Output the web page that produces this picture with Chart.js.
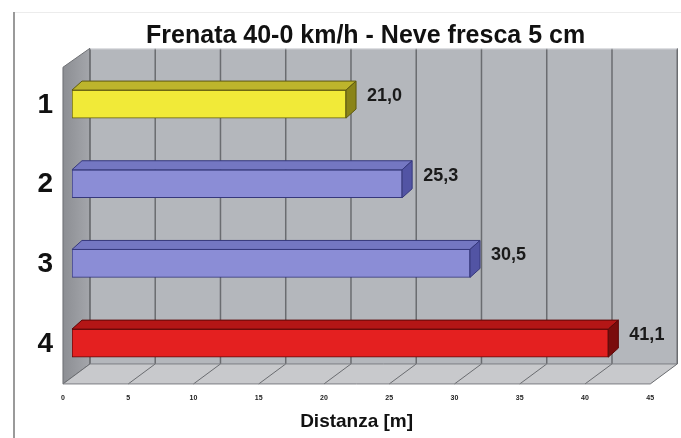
<!DOCTYPE html>
<html>
<head>
<meta charset="utf-8">
<script src="https://cdn.jsdelivr.net/npm/chart.js@4.4.1/dist/chart.umd.min.js"></script>
<style>
  html, body { margin: 0; padding: 0; background: #ffffff; }
  #wrap { position: relative; width: 681px; height: 438px; }
</style>
</head>
<body>
<div id="wrap"><canvas id="c"></canvas></div>
<script>
// Braking distance from 40 km/h to 0 on 5 cm of fresh snow
const categories = ['1', '2', '3', '4'];
const distances = [21.0, 25.3, 30.5, 41.1];
const axisMin = 0;
const axisMax = 45;
const axisStep = 5;
const chartTitle = 'Frenata 40-0 km/h - Neve fresca 5 cm';
const xAxisTitle = 'Distanza [m]';

// bar colours: front, top, side, edge
const frontColors = ['#f1ea38', '#8b8dd6', '#8b8dd6', '#e42020'];
const topColors   = ['#bdb52c', '#7477c2', '#7477c2', '#b41616'];
const sideColors  = ['#8a8418', '#5254a4', '#5254a4', '#7a0c0c'];
const edgeColors  = ['#5f5a10', '#36387c', '#36387c', '#5e0808'];

const FONT = '"Liberation Sans", Arial, Helvetica, sans-serif';

// 3D look: bar extrusion and wall depth (pixels)
const BAR_DX = 10, BAR_DY = 9;
const WALL_BACK_DX = 18, WALL_FRONT_DX = -9;

const walls = {
  id: 'walls',
  beforeDatasetsDraw(chart) {
    const { ctx, chartArea } = chart;
    const xs = chart.scales.x;
    const px = v => xs.getPixelForValue(v);
    const bx = v => px(v) + WALL_BACK_DX;
    const fx = v => px(v) + WALL_FRONT_DX;
    const wallTop = chartArea.top - 16;
    const backFloor = chartArea.bottom - 19;
    const frontFloor = backFloor + 20;
    const sideTop = wallTop + 19;

    ctx.save();
    // frame line on the left
    ctx.strokeStyle = '#9a9a9a';
    ctx.lineWidth = 2;
    ctx.beginPath(); ctx.moveTo(14, 12); ctx.lineTo(14, 438); ctx.stroke();
    ctx.strokeStyle = '#ececec';
    ctx.lineWidth = 1;
    ctx.beginPath(); ctx.moveTo(15, 12.5); ctx.lineTo(681, 12.5); ctx.stroke();

    // back wall
    ctx.fillStyle = '#b4b7bc';
    ctx.fillRect(bx(axisMin), wallTop, bx(axisMax) - bx(axisMin), backFloor - wallTop);

    // left side wall
    const g = ctx.createLinearGradient(fx(axisMin), 0, bx(axisMin), 0);
    g.addColorStop(0, '#8c8e93');
    g.addColorStop(1, '#a4a6ab');
    ctx.fillStyle = g;
    ctx.beginPath();
    ctx.moveTo(fx(axisMin), sideTop);
    ctx.lineTo(bx(axisMin), wallTop);
    ctx.lineTo(bx(axisMin), backFloor);
    ctx.lineTo(fx(axisMin), frontFloor);
    ctx.closePath();
    ctx.fill();
    ctx.strokeStyle = '#6e7074';
    ctx.lineWidth = 1;
    ctx.stroke();

    // floor
    ctx.fillStyle = '#c8c9cc';
    ctx.beginPath();
    ctx.moveTo(fx(axisMin), frontFloor);
    ctx.lineTo(bx(axisMin), backFloor);
    ctx.lineTo(bx(axisMax), backFloor);
    ctx.lineTo(fx(axisMax), frontFloor);
    ctx.closePath();
    ctx.fill();

    // grid lines on back wall and floor
    ctx.strokeStyle = '#6a6c70';
    xs.ticks.forEach(t => {
      const v = t.value;
      ctx.lineWidth = 1.5;
      ctx.beginPath();
      ctx.moveTo(bx(v), wallTop);
      ctx.lineTo(bx(v), backFloor);
      ctx.stroke();
      ctx.lineWidth = 1;
      ctx.beginPath();
      ctx.moveTo(bx(v), backFloor);
      ctx.lineTo(fx(v), frontFloor);
      ctx.stroke();
    });
    // floor edges
    ctx.strokeStyle = '#7c7e82';
    ctx.beginPath();
    ctx.moveTo(fx(axisMin), frontFloor);
    ctx.lineTo(fx(axisMax), frontFloor);
    ctx.moveTo(bx(axisMin), backFloor);
    ctx.lineTo(bx(axisMax), backFloor);
    ctx.stroke();
    // top edge of the walls
    ctx.strokeStyle = '#e6e7ea';
    ctx.beginPath();
    ctx.moveTo(bx(axisMin), wallTop + 0.5);
    ctx.lineTo(bx(axisMax), wallTop + 0.5);
    ctx.stroke();

    // axis title, centred under the front edge of the floor
    ctx.fillStyle = '#111111';
    ctx.font = 'bold 19px ' + FONT;
    ctx.textAlign = 'center';
    ctx.textBaseline = 'middle';
    ctx.fillText(xAxisTitle, (fx(axisMin) + fx(axisMax)) / 2, 421.5);
    ctx.restore();
  },
  afterDatasetsDraw(chart) {
    const { ctx } = chart;
    const meta = chart.getDatasetMeta(0);
    ctx.save();
    meta.data.forEach((bar, i) => {
      const p = bar.getProps(['x', 'y', 'base', 'height'], true);
      const left = p.base, right = p.x;
      const top = p.y - p.height / 2, bottom = p.y + p.height / 2;
      ctx.lineWidth = 1;
      ctx.strokeStyle = edgeColors[i];
      // top face
      ctx.fillStyle = topColors[i];
      ctx.beginPath();
      ctx.moveTo(left, top);
      ctx.lineTo(left + BAR_DX, top - BAR_DY);
      ctx.lineTo(right + BAR_DX, top - BAR_DY);
      ctx.lineTo(right, top);
      ctx.closePath();
      ctx.fill(); ctx.stroke();
      // end face
      ctx.fillStyle = sideColors[i];
      ctx.beginPath();
      ctx.moveTo(right, top);
      ctx.lineTo(right + BAR_DX, top - BAR_DY);
      ctx.lineTo(right + BAR_DX, bottom - BAR_DY);
      ctx.lineTo(right, bottom);
      ctx.closePath();
      ctx.fill(); ctx.stroke();

      // value label
      const text = distances[i].toFixed(1).replace('.', ',');
      ctx.fillStyle = '#1a1a1a';
      ctx.font = 'bold 18px ' + FONT;
      ctx.textAlign = 'left';
      ctx.textBaseline = 'middle';
      ctx.fillText(text, right + 21, p.y - 8);
    });
    ctx.restore();
  }
};

new Chart(document.getElementById('c'), {
  type: 'bar',
  data: {
    labels: categories,
    datasets: [{
      data: distances,
      backgroundColor: frontColors,
      borderColor: edgeColors,
      borderWidth: 1,
      borderSkipped: false,
      barThickness: 28
    }]
  },
  options: {
    indexAxis: 'y',
    responsive: true,
    maintainAspectRatio: false,
    animation: false,
    devicePixelRatio: 1,
    layout: { padding: { left: 18.4, right: 21.75, top: 0, bottom: 25.55 } },
    plugins: {
      legend: { display: false },
      tooltip: { enabled: false },
      title: {
        display: true,
        fullSize: false,
        text: chartTitle,
        color: '#111111',
        font: { family: FONT, size: 25, weight: 'bold', lineHeight: 1.2 },
        padding: { top: 21.6, bottom: 12.65 }
      }
    },
    scales: {
      x: {
        type: 'linear',
        min: axisMin,
        max: axisMax,
        border: { display: false },
        grid: { display: false, drawTicks: false },
        ticks: {
          stepSize: axisStep,
          color: '#222222',
          font: { family: FONT, size: 7, weight: 'bold', lineHeight: 1.2 },
          padding: 10.55,
          labelOffset: WALL_FRONT_DX,
          maxRotation: 0,
          autoSkip: false
        }
      },
      y: {
        type: 'category',
        offset: true,
        border: { display: false },
        grid: { display: false, drawTicks: false },
        ticks: {
          color: '#111111',
          font: { family: FONT, size: 28, weight: 'bold', lineHeight: 1.2 },
          padding: 19,
          labelOffset: 1
        }
      }
    }
  },
  plugins: [walls]
});
</script>
</body>
</html>
